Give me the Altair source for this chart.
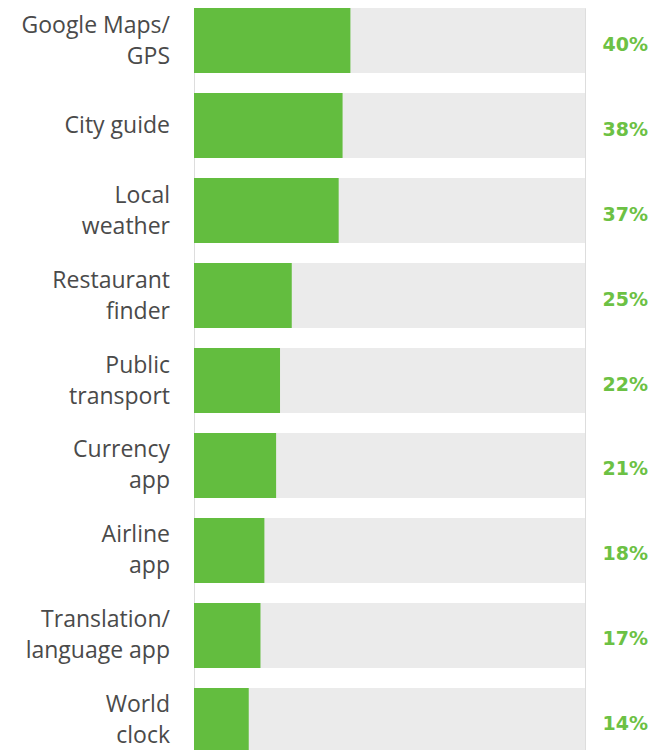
import altair as alt
import pandas as pd

line_top = ["Google Maps/", "", "Local", "Restaurant", "Public", "Currency",
            "Airline", "Translation/", "World"]
line_bottom = ["GPS", "", "weather", "finder", "transport", "app",
               "app", "language app", "clock"]
line_single = ["", "City guide", "", "", "", "", "", "", ""]
keys = ["Google Maps/GPS", "City guide", "Local weather", "Restaurant finder",
        "Public transport", "Currency app", "Airline app",
        "Translation/language app", "World clock"]
values = [40, 38, 37, 25, 22, 21, 18, 17, 14]
full = [100] * len(values)

df = pd.DataFrame({
    "cat": keys,
    "top": line_top,
    "bottom": line_bottom,
    "single": line_single,
    "value": values,
    "full": full,
    "pct": [f"{v}%" for v in values],
})

yscale = alt.Scale(range=[0, 745], paddingInner=0.235, paddingOuter=0)
y = alt.Y("cat:N", sort=keys, axis=None, scale=yscale)
xscale = alt.Scale(domain=[0, 100])

base = alt.Chart(df)

bg = base.mark_bar(color="#ebebeb").encode(
    x=alt.X("full:Q", scale=xscale, axis=None), y=y)
fg = base.mark_bar(color="#63bd3f").encode(
    x=alt.X("value:Q", scale=xscale, axis=None), y=y)

label_style = dict(align="right", baseline="middle", font="Open Sans",
                   fontSize=23, color="#4a4a4a")
lab_top = base.mark_text(dy=-15, **label_style).encode(
    x=alt.value(-24), y=y, text="top:N")
lab_bot = base.mark_text(dy=16, **label_style).encode(
    x=alt.value(-24), y=y, text="bottom:N")
lab_single = base.mark_text(dy=0, **label_style).encode(
    x=alt.value(-24), y=y, text="single:N")

pcts = base.mark_text(
    align="right", baseline="middle", font="DejaVu Sans", fontSize=19,
    fontWeight="bold", color="#6cc144", dy=4,
).encode(x=alt.value(454), y=y, text="pct:N")

chart = alt.layer(bg, fg, lab_top, lab_bot, lab_single, pcts).properties(
    width=391, height=742,
    autosize=alt.AutoSizeParams(type="none"),
    padding={"left": 186, "top": 0, "right": 64, "bottom": 0},
).configure_view(stroke=None).configure(background="white")

chart.save("out.html", embed_options={"renderer": "svg", "actions": False})
